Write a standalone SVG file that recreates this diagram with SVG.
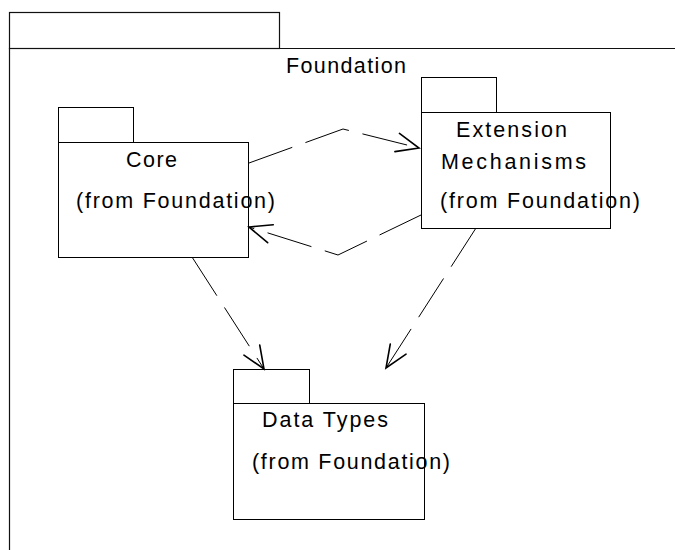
<svg xmlns="http://www.w3.org/2000/svg" width="675" height="550" viewBox="0 0 675 550">
  <style>
    .box { fill: none; stroke: #000; stroke-width: 1; }
    .frame { fill: none; stroke: #111; stroke-width: 1.2; }
    .lbl { font-family: "Liberation Sans", Arial, sans-serif; font-size: 21.5px; fill: #000; }
    .dep { fill: none; stroke: #000; stroke-width: 1; stroke-dasharray: 46 14; }
    .head { fill: none; stroke: #000; stroke-width: 1.7; stroke-dasharray: none; stroke-linecap: round; stroke-linejoin: miter; }
  </style>
  <defs>
    <marker id="open-arrow" markerUnits="userSpaceOnUse" markerWidth="30" markerHeight="30" viewBox="-28 -14 32 28" refX="0" refY="0" orient="auto">
      <path class="head" d="M-24,-10 L0,0 L-24,10"/>
    </marker>
  </defs>

  <rect width="675" height="550" fill="#fff"/>

  <!-- enclosing package -->
  <g id="foundation">
    <rect class="frame" x="9.5" y="12.5" width="270" height="36"/>
    <path class="frame" d="M675,48.5 H9.5 V550"/>
    <text class="lbl" x="286" y="73" textLength="120" lengthAdjust="spacing">Foundation</text>
  </g>

  <!-- Core package -->
  <g id="core">
    <rect class="box" x="58.5" y="107.5" width="75" height="35"/>
    <rect class="box" x="58.5" y="142.5" width="190" height="115"/>
    <text class="lbl" x="126" y="167" textLength="51" lengthAdjust="spacing">Core</text>
    <text class="lbl" x="76" y="208" textLength="199" lengthAdjust="spacing">(from Foundation)</text>
  </g>

  <!-- Extension Mechanisms package -->
  <g id="extension-mechanisms">
    <rect class="box" x="421.5" y="77.5" width="75" height="35"/>
    <rect class="box" x="421.5" y="112.5" width="189" height="116"/>
    <text class="lbl" x="456" y="137" textLength="111" lengthAdjust="spacing">Extension</text>
    <text class="lbl" x="441" y="169" textLength="145" lengthAdjust="spacing">Mechanisms</text>
    <text class="lbl" x="440" y="208" textLength="200" lengthAdjust="spacing">(from Foundation)</text>
  </g>

  <!-- Data Types package -->
  <g id="data-types">
    <rect class="box" x="233.5" y="369.5" width="76" height="34"/>
    <rect class="box" x="233.5" y="403.5" width="191" height="116"/>
    <text class="lbl" x="262" y="427" textLength="126" lengthAdjust="spacing">Data Types</text>
    <text class="lbl" x="252" y="469" textLength="198" lengthAdjust="spacing">(from Foundation)</text>
  </g>

  <!-- dependencies -->
  <g id="connectors">
    <polyline class="dep" points="249,163 343,129 419,148" marker-end="url(#open-arrow)"/>
    <polyline class="dep" points="421,215 338,255 249,227" marker-end="url(#open-arrow)"/>
    <polyline class="dep" points="192,257 264,369" marker-end="url(#open-arrow)"/>
    <polyline class="dep" points="476,228 386,368" marker-end="url(#open-arrow)"/>
  </g>
</svg>
